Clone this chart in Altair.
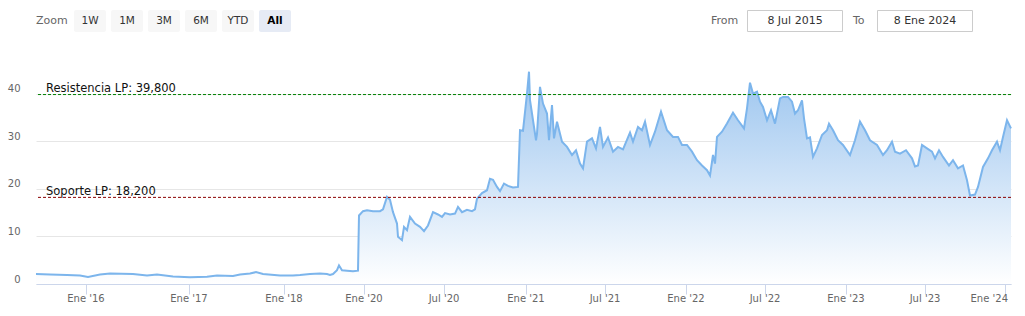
import altair as alt
import pandas as pd

# ---------------- data (ordinal position of the observation, price) ----------------
posicion = [0, 14, 31, 44, 52, 64, 74, 97, 111, 121, 137, 154, 171, 181, 197, 204, 214, 220, 227,
            244, 257, 264, 274, 284, 291, 294, 297, 301, 303, 306, 311, 317, 322, 323, 327, 331,
            337, 344, 347, 351, 354, 357, 361, 362, 366, 368, 371, 374, 379, 384, 388, 392, 397,
            402, 406, 409, 414, 419, 422, 426, 431, 436, 439, 441, 446, 451, 454, 457, 461, 464,
            468, 472, 477, 482, 484, 487, 491, 493, 494, 497, 500, 501, 504, 507, 511, 513, 516,
            518, 521, 526, 531, 536, 540, 544, 547, 551, 556, 560, 564, 567, 572, 577, 582, 587,
            594, 597, 602, 606, 609, 614, 619, 625, 631, 637, 642, 646, 651, 656, 661, 666, 671,
            674, 677, 679, 681, 686, 691, 697, 702, 708, 711, 714, 717, 721, 724, 727, 731, 735,
            739, 744, 747, 752, 756, 759, 762, 766, 768, 771, 774, 777, 781, 786, 791, 793, 797,
            802, 807, 814, 819, 824, 829, 834, 841, 847, 851, 856, 859, 864, 870, 876, 879, 882,
            886, 891, 896, 899, 903, 907, 913, 917, 922, 927, 931, 934, 939, 942, 947, 952, 956,
            961, 964, 967, 971, 975]
precio = [2.1, 2.0, 1.9, 1.8, 1.5, 2.0, 2.2, 2.1, 1.8, 2.0, 1.6, 1.4, 1.5, 1.8, 1.7, 2.0, 2.2, 2.5, 2.1,
          1.8, 1.8, 1.9, 2.1, 2.2, 2.1, 1.9, 2.1, 2.9, 3.9, 2.9, 2.8, 2.7, 2.8, 14.4, 15.3, 15.5,
          15.3, 15.3, 15.7, 18.3, 17.7, 15.1, 12.7, 9.9, 9.2, 12.0, 11.3, 14.1, 12.7, 12.0, 11.1, 12.3, 15.1,
          14.6, 14.1, 14.9, 14.6, 14.8, 16.2, 15.1, 15.6, 15.3, 15.7, 17.9, 19.1, 19.7, 22.1, 21.9, 20.4, 19.5,
          21.1, 20.6, 20.3, 20.4, 32.3, 32.2, 40.0, 44.6, 38.6, 34.4, 30.2, 31.6, 41.4, 37.9, 35.8, 30.2, 37.6,
          30.6, 34.1, 29.9, 28.8, 27.1, 28.1, 25.3, 24.3, 29.9, 30.6, 28.5, 33.0, 28.8, 30.8, 27.8, 28.8, 28.3,
          31.8, 29.9, 33.0, 32.3, 34.1, 29.2, 32.0, 36.2, 32.3, 30.9, 30.9, 29.2, 29.2, 27.8, 26.0, 24.9, 23.9,
          22.8, 27.1, 25.3, 30.9, 32.0, 33.7, 36.0, 34.4, 32.7, 36.9, 42.3, 40.0, 40.4, 38.3, 37.2, 34.4, 36.5,
          33.7, 39.0, 39.3, 39.3, 38.3, 35.8, 36.5, 38.6, 34.8, 30.6, 30.8, 26.7, 28.5, 31.3, 32.3, 33.7, 32.3,
          30.2, 29.2, 27.1, 30.2, 34.1, 32.3, 30.2, 29.2, 27.1, 28.1, 29.9, 27.8, 27.4, 28.1, 26.4, 24.7, 24.9,
          29.2, 28.5, 27.8, 26.4, 28.1, 26.7, 24.9, 26.0, 24.3, 24.9, 21.8, 18.6, 18.8, 20.4, 24.6, 26.4, 28.1,
          29.9, 28.1, 30.9, 34.4, 32.7]

etiqueta_pos = [50, 153, 248, 328, 408, 490, 569, 650, 729, 810, 889, 969]
etiqueta_txt = ["Ene '16", "Ene '17", "Ene '18", "Ene '20", "Jul '20", "Ene '21",
                "Jul '21", "Ene '22", "Jul '22", "Ene '23", "Jul '23", "Ene '24"]
y_ticks = [0, 10, 20, 30, 40]

niveles = [39.8, 18.2]
niveles_txt = ["Resistencia LP: 39,800", "Soporte LP: 18,200"]
niveles_color = ["#008000", "#8b0000"]

botones = ["1W", "1M", "3M", "6M", "YTD", "All"]
desde_txt = "8 Jul 2015"
hasta_txt = "8 Ene 2024"

# ---------------- layout ----------------
W, H = 975, 238
LEFT, TOP = 36, 46
FONT = "DejaVu Sans"

serie = pd.DataFrame({"pos": posicion, "precio": precio})
ticks_df = pd.DataFrame({"pos": etiqueta_pos, "txt": etiqueta_txt})
niveles_df = pd.DataFrame({"nivel": niveles, "txt": niveles_txt, "color": niveles_color})
uno = pd.DataFrame({"k": [0]})

xs = alt.Scale(domain=[0, 975], nice=False, zero=False)
ys = alt.Scale(domain=[0, 50], nice=False)

x_axis = alt.Axis(values=etiqueta_pos, labels=False, grid=False, tickSize=10,
                  tickColor="#ccd6eb", domainColor="#ccd6eb", title=None)
y_axis = alt.Axis(values=y_ticks, grid=True, gridColor="#e6e6e6", domain=False,
                  ticks=False, labelColor="#666666", labelFont=FONT,
                  labelFontSize=10, labelPadding=16, labelOffset=-2,
                  labelBaseline="alphabetic", title=None)

gradiente = alt.Gradient(
    gradient="linear",
    stops=[alt.GradientStop(color="#9cc5ef", offset=0),
           alt.GradientStop(color="#ffffff", offset=1)],
    x1=1, x2=1, y1=0, y2=1,
)

area = alt.Chart(serie).mark_area(color=gradiente, interpolate="linear").encode(
    x=alt.X("pos:Q", scale=xs, axis=x_axis),
    y=alt.Y("precio:Q", scale=ys, axis=y_axis),
)

linea = alt.Chart(serie).mark_line(color="#7cb5ec", strokeWidth=2, interpolate="linear").encode(
    x=alt.X("pos:Q", scale=xs, axis=x_axis),
    y=alt.Y("precio:Q", scale=ys, axis=y_axis),
)

x_labels = alt.Chart(ticks_df).transform_filter(
    alt.datum.pos < etiqueta_pos[-1]
).mark_text(font=FONT, fontSize=10, color="#666666", baseline="middle", align="center").encode(
    x=alt.X("pos:Q", scale=xs, axis=x_axis),
    y=alt.value(H + 15),
    text="txt:N",
)
x_label_last = alt.Chart(ticks_df).transform_filter(
    alt.datum.pos >= etiqueta_pos[-1]
).mark_text(font=FONT, fontSize=10, color="#666666", baseline="middle", align="right", dx=3).encode(
    x=alt.X("pos:Q", scale=xs, axis=x_axis),
    y=alt.value(H + 15),
    text="txt:N",
)

reglas = alt.Chart(niveles_df).mark_rule(strokeDash=[3, 2], strokeWidth=1).encode(
    y=alt.Y("nivel:Q", scale=ys, axis=y_axis),
    color=alt.Color("color:N", scale=None),
)

reglas_txt = alt.Chart(niveles_df).mark_text(font=FONT, fontSize=11.5, color="#111111",
                                              align="left", baseline="alphabetic", dy=-2.5).encode(
    x=alt.value(10),
    y=alt.Y("nivel:Q", scale=ys, axis=y_axis),
    text="txt:N",
)


def caja(x0, x1, y0, y1, fill, stroke=None):
    kw = dict(fill=fill, cornerRadius=2)
    if stroke:
        kw = dict(fill=fill, stroke=stroke, strokeWidth=1)
    return alt.Chart(uno).mark_rect(**kw).encode(
        x=alt.value(x0 - LEFT), x2=alt.value(x1 - LEFT),
        y=alt.value(y0 - TOP), y2=alt.value(y1 - TOP))


def texto(t, x, y, size=11, color="#666666", align="left", weight="normal"):
    return alt.Chart(uno).mark_text(text=t, font=FONT, fontSize=size, color=color, align=align,
                                     baseline="middle", fontWeight=weight).encode(
        x=alt.value(x - LEFT), y=alt.value(y - TOP))


ui = [texto("Zoom", 36, 21)]
bx = [74, 111, 148, 185, 222, 259]
for i, b in enumerate(botones):
    activo = b == "All"
    ui.append(caja(bx[i], bx[i] + 32, 10, 32, "#e6ebf5" if activo else "#f7f7f7"))
    ui.append(texto(b, bx[i] + 16, 20.5, size=10.5, color="#000000" if activo else "#333333",
                    align="center", weight="bold" if activo else "normal"))

ui.append(texto("From", 711, 21))
ui.append(caja(747.5, 842.5, 10.5, 31.5, "#ffffff", stroke="#cccccc"))
ui.append(texto(desde_txt, 795, 20.5, size=11, color="#333333", align="center"))
ui.append(texto("To", 853, 21))
ui.append(caja(877.5, 972.5, 10.5, 31.5, "#ffffff", stroke="#cccccc"))
ui.append(texto(hasta_txt, 925, 20.5, size=11, color="#333333", align="center"))

chart = alt.layer(area, linea, reglas, reglas_txt, x_labels, x_label_last, *ui).properties(
    width=W, height=H,
    padding={"left": LEFT, "top": TOP, "right": 1025 - LEFT - W, "bottom": 316 - TOP - H},
    autosize=alt.AutoSizeParams(type="none"),
    background="#ffffff",
).configure_view(stroke=None)

chart.save("out.html", embed_options={"renderer": "svg", "actions": False})
